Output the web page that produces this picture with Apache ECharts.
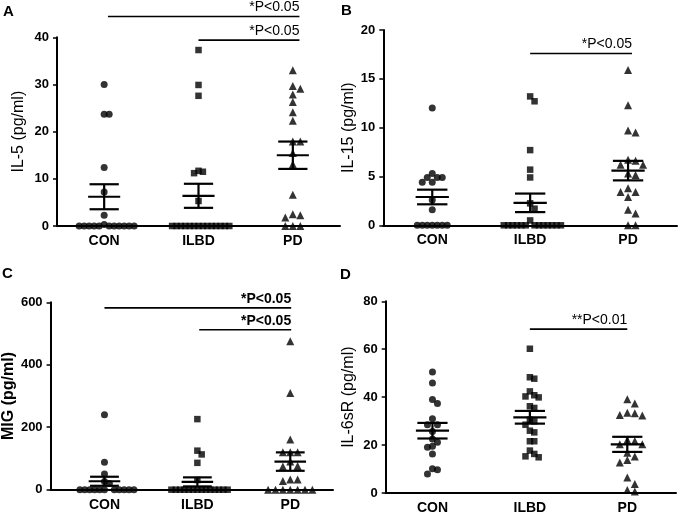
<!DOCTYPE html>
<html>
<head>
<meta charset="utf-8">
<script src="https://cdn.jsdelivr.net/npm/echarts@6/dist/echarts.min.js"></script>
<style>
  html, body { margin: 0; padding: 0; background: #fff; }
  #chart { width: 680px; height: 516px; }
</style>
</head>
<body>
<div id="chart"></div>
<script>
const groups = ['CON', 'ILBD', 'PD'];

// A: IL-5
const il5Con = [30, 23.7, 23.7, 12.4, 7.2, 2.3, 0.3, 0, 0, 0, 0, 0, 0, 0, 0, 0, 0, 0];
const il5Ilbd = [37.3, 29.9, 27.6, 11.7, 11.5, 11.2, 5.3, 0, 0, 0, 0, 0, 0, 0, 0, 0, 0, 0, 0, 0, 0];
const il5Pd = [33, 29.7, 29.1, 27.9, 26.3, 24.1, 22.3, 17.9, 17.9, 15.5, 13.1, 6.6, 2.5, 2.3, 1.8, 0, 0, 0];
const il5Mean = [6.2, 6.4, 15.0];
const il5Sem = [2.65, 2.55, 2.9];
const il5Sig = [[1.04, 3.07, 44.4, '*P<0.05'], [2.0, 3.07, 39.4, '*P<0.05']];

// B: IL-15
const il15Con = [12.0, 5.3, 4.9, 4.9, 4.9, 4.4, 4.4, 2.6, 1.6, 0, 0, 0, 0, 0, 0, 0];
const il15Ilbd = [13.2, 12.7, 7.7, 5.7, 4.9, 2.25, 1.7, 0.5, 0, 0, 0, 0, 0, 0, 0, 0, 0, 0, 0, 0, 0];
const il15Pd = [15.9, 12.3, 9.7, 9.5, 6.7, 6.6, 6.2, 6.2, 5.3, 5.15, 3.8, 3.4, 3.4, 2.9, 1.6, 1.2, 0, 0];
const il15Mean = [2.9, 2.3, 5.6];
const il15Sem = [0.75, 0.95, 1.0];
const il15Sig = [[2.0, 3.04, 17.6, '*P<0.05']];

// C: MIG
const migCon = [240, 88, 50, 26, 20, 0, 0, 0, 0, 0, 0, 0, 0, 0, 0, 0];
const migIlbd = [226, 125, 113, 86, 31, 0, 0, 0, 0, 0, 0, 0, 0, 0, 0, 0, 0, 0, 0];
const migPd = [475, 310, 161, 120, 120, 120, 90, 76, 74, 33, 33, 28, 0, 0, 0, 0, 0, 0, 0];
const migMean = [27, 25, 90];
const migSem = [14.5, 14.5, 29.5];
const migSig = [[1.0, 3.01, 582, '*P<0.05'], [2.02, 3.01, 512, '*P<0.05']];

// D: IL-6sR
const il6Con = [50.5, 45.9, 39, 37.3, 31.0, 28.5, 28.5, 25.7, 22.5, 21.2, 19.5, 19.1, 16.3, 10.1, 9.7, 7.9];
const il6Ilbd = [60.2, 48.3, 47.7, 42.4, 40.8, 40.3, 39.9, 36.2, 35.5, 30.6, 29.9, 28.5, 26, 25.3, 21.6, 21.6, 17.7, 16.3, 15.3, 14.9];
const il6Pd = [39.1, 37.4, 33.5, 33.3, 32.6, 32.3, 22.1, 21.7, 20.3, 20.3, 16.8, 15.2, 13.8, 12.7, 6.5, 3.8, 1.25, 0.6];
const il6Mean = [26.0, 31.6, 20.3];
const il6Sem = [3.25, 2.65, 3.15];
const il6Sig = [[2.0, 3.0, 68.4, '**P<0.01']];

const FONT = '"Liberation Sans", Arial, sans-serif';
const symbols = ['circle', 'rect', 'triangle'];
const symbolSizes = [7, 6.5, 8];
const spacing = [5, 4.4, 7.5];   // sideways step between neighbours, px

const panels = [
    { letter: 'A', name: 'IL-5 (pg/ml)', nameBold: false, yMax: 40, yInt: 10,
      grid: { left: 57, top: 37.3, width: 283, height: 188.7 }, xMin: 0.5, xMax: 3.5, nameGap: 30,
      data: [il5Con, il5Ilbd, il5Pd], mean: il5Mean, sem: il5Sem, sig: il5Sig, sigBold: false,
      letterPos: [3, 4] },
    { letter: 'B', name: 'IL-15 (pg/ml)', nameBold: false, yMax: 20, yInt: 5,
      grid: { left: 383.3, top: 30, width: 293.7, height: 195.3 }, xMin: 0.5, xMax: 3.5, nameGap: 27,
      data: [il15Con, il15Ilbd, il15Pd], mean: il15Mean, sem: il15Sem, sig: il15Sig, sigBold: false,
      letterPos: [341, 3] },
    { letter: 'C', name: 'MIG (pg/ml)', nameBold: true, yMax: 600, yInt: 200,
      grid: { left: 45.7, top: 302.3, width: 287.3, height: 187.4 }, xMin: 0.42, xMax: 3.46, nameGap: 27,
      data: [migCon, migIlbd, migPd], mean: migMean, sem: migSem, sig: migSig, sigBold: true,
      letterPos: [2, 266] },
    { letter: 'D', name: 'IL-6sR (pg/ml)', nameBold: false, yMax: 80, yInt: 20,
      grid: { left: 385.7, top: 301.3, width: 290.3, height: 191.7 }, xMin: 0.52, xMax: 3.5, nameGap: 29,
      data: [il6Con, il6Ilbd, il6Pd], mean: il6Mean, sem: il6Sem, sig: il6Sig, sigBold: false,
      letterPos: [340, 267] }
];

// column scatter: spread points sideways so they don't sit on top of each other
function swarm(values, center, pxX, pxY, sx, sy) {
    const order = values.map((v, i) => i).sort((a, b) => values[b] - values[a]);
    const placed = [];
    order.forEach(i => {
        const y = values[i] * pxY;
        const near = placed.filter(p => Math.abs(p.y - y) < sy);
        const cands = [0];
        near.forEach(p => cands.push(p.x + sx, p.x - sx));
        cands.sort((a, b) => Math.abs(a) - Math.abs(b) || b - a);
        const x = cands.find(c => near.every(p => Math.abs(p.x - c) >= sx - 1e-6));
        placed.push({ x: x, y: y, v: values[i] });
    });
    return placed.map(p => [center + p.x / pxX, p.v]);
}

const grids = [], xAxes = [], yAxes = [], series = [], graphics = [];

panels.forEach((p, k) => {
    grids.push(Object.assign({ containLabel: false }, p.grid));
    const pxX = p.grid.width / (p.xMax - p.xMin);
    const pxY = p.grid.height / p.yMax;

    xAxes.push({
        gridIndex: k, type: 'value', min: p.xMin, max: p.xMax,
        splitLine: { show: false },
        axisLine: { show: true, onZero: false, lineStyle: { color: '#000', width: 2 } },
        axisTick: { show: false },
        axisLabel: {
            customValues: [1, 2, 3],
            formatter: v => groups[Math.round(v) - 1] || '',
            color: '#000', fontFamily: FONT, fontWeight: 'bold', fontSize: 14, margin: 8
        }
    });
    yAxes.push({
        gridIndex: k, type: 'value', min: 0, max: p.yMax, interval: p.yInt,
        name: p.name, nameLocation: 'middle', nameGap: p.nameGap,
        nameTextStyle: { color: '#000', fontFamily: FONT, fontSize: 16, fontWeight: p.nameBold ? 'bold' : 'normal' },
        splitLine: { show: false },
        axisLine: { show: true, lineStyle: { color: '#000', width: 2 } },
        axisTick: { show: true, length: 4, lineStyle: { color: '#000', width: 1.5 } },
        axisLabel: { color: '#000', fontFamily: FONT, fontWeight: 'bold', fontSize: 13, margin: 8 }
    });

    p.data.forEach((vals, g) => {
        series.push({
            type: 'scatter', xAxisIndex: k, yAxisIndex: k,
            symbol: symbols[g], symbolSize: symbolSizes[g],
            itemStyle: { color: '#000' },
            clip: false, silent: true,
            data: swarm(vals, g + 1, pxX, pxY, spacing[g], 7)
        });
    });

    // mean with SEM
    series.push({
        type: 'custom', xAxisIndex: k, yAxisIndex: k, z: 5, silent: true,
        data: p.mean.map((m, g) => [g + 1, m, p.sem[g]]),
        renderItem: (params, api) => {
            const x = api.value(0), m = api.value(1), s = api.value(2);
            const c = api.coord([x, m]);
            const hi = api.coord([x, m + s]);
            const lo = api.coord([x, m - s]);
            const hm = api.size([0.17, 0])[0];
            const hs = api.size([0.155, 0])[0];
            const st = { stroke: '#000', lineWidth: 2.2 };
            return {
                type: 'group',
                children: [
                    { type: 'line', shape: { x1: c[0] - hm, y1: c[1], x2: c[0] + hm, y2: c[1] }, style: st },
                    { type: 'line', shape: { x1: c[0] - hs, y1: hi[1], x2: c[0] + hs, y2: hi[1] }, style: st },
                    { type: 'line', shape: { x1: c[0] - hs, y1: lo[1], x2: c[0] + hs, y2: lo[1] }, style: st },
                    { type: 'line', shape: { x1: c[0], y1: hi[1], x2: c[0], y2: lo[1] }, style: st }
                ]
            };
        }
    });

    // significance bars
    series.push({
        type: 'custom', xAxisIndex: k, yAxisIndex: k, z: 5, silent: true, clip: false,
        data: p.sig.map(s => [s[0], s[1], s[2]]),
        renderItem: (params, api) => {
            const a = api.coord([api.value(0), api.value(2)]);
            const b = api.coord([api.value(1), api.value(2)]);
            return {
                type: 'group',
                children: [
                    { type: 'line', shape: { x1: a[0], y1: a[1], x2: b[0], y2: b[1] },
                      style: { stroke: '#000', lineWidth: 1.6 } },
                    { type: 'text', x: b[0], y: a[1] - 2,
                      style: { text: p.sig[params.dataIndex][3], fill: '#000',
                               fontFamily: FONT, fontSize: 14, fontWeight: p.sigBold ? 'bold' : 'normal',
                               align: 'right', verticalAlign: 'bottom' } }
                ]
            };
        }
    });

    graphics.push({
        type: 'text', left: p.letterPos[0], top: p.letterPos[1],
        style: { text: p.letter, fill: '#000', fontFamily: FONT, fontSize: 15, fontWeight: 'bold' }
    });
});

const chart = echarts.init(document.getElementById('chart'));
chart.setOption({
    backgroundColor: '#fff',
    animation: false,
    grid: grids,
    xAxis: xAxes,
    yAxis: yAxes,
    series: series,
    graphic: graphics
});
</script>
</body>
</html>
